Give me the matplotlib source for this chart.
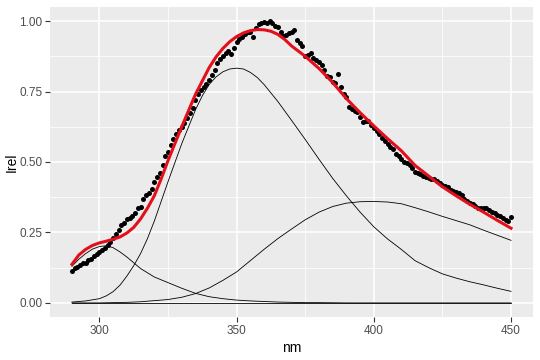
import numpy as np
import matplotlib
matplotlib.use('Agg')
import matplotlib.pyplot as plt
from matplotlib.ticker import MultipleLocator

plt.rcParams['font.family'] = ['Liberation Sans', 'DejaVu Sans']

# measured points, 1 nm steps
nm_obs = list(range(290, 451))
irel_obs = [
    0.115, 0.125, 0.128, 0.135, 0.140, 0.143, 0.152, 0.155, 0.165, 0.172,
    0.180, 0.188, 0.196, 0.205, 0.215, 0.232, 0.245, 0.260, 0.275, 0.285,
    0.297, 0.303, 0.310, 0.318, 0.335, 0.342, 0.370, 0.382, 0.390, 0.405,
    0.430, 0.445, 0.460, 0.490, 0.520, 0.535, 0.560, 0.580, 0.600, 0.615,
    0.625, 0.640, 0.655, 0.675, 0.690, 0.720, 0.740, 0.755, 0.765, 0.775,
    0.790, 0.810, 0.825, 0.850, 0.865, 0.875, 0.888, 0.895, 0.882, 0.905,
    0.925, 0.935, 0.945, 0.955, 0.960, 0.962, 0.945, 0.975, 0.990, 0.993,
    0.997, 0.992, 1.000, 0.995, 0.982, 0.978, 0.960, 0.948, 0.950, 0.958,
    0.963, 0.970, 0.932, 0.922, 0.910, 0.875, 0.878, 0.885, 0.868, 0.862,
    0.855, 0.845, 0.825, 0.805, 0.800, 0.785, 0.780, 0.813, 0.765, 0.740,
    0.730, 0.695, 0.688, 0.680, 0.676, 0.660, 0.642, 0.645, 0.645, 0.630,
    0.620, 0.610, 0.600, 0.585, 0.575, 0.563, 0.553, 0.545, 0.530, 0.520,
    0.510, 0.500, 0.497, 0.490, 0.478, 0.465, 0.462, 0.458, 0.452, 0.447,
    0.443, 0.440, 0.438, 0.432, 0.427, 0.420, 0.415, 0.410, 0.400, 0.398,
    0.394, 0.390, 0.383, 0.370, 0.360, 0.355, 0.350, 0.343, 0.335, 0.336,
    0.338, 0.337, 0.328, 0.322, 0.318, 0.312, 0.308, 0.300, 0.295, 0.290,
    0.305,
]

# fitted components (denser where they bend)
nm_c1 = [290, 292.5, 295, 297.5, 300, 302.5, 305, 307.5, 310, 315, 320, 325,
         330, 335, 340, 345, 350, 355, 360, 365, 370, 375, 380, 390, 400,
         420, 450]
comp1 = [0.130, 0.155, 0.175, 0.191, 0.200, 0.203, 0.196, 0.181, 0.163, 0.122,
         0.092, 0.072, 0.052, 0.034, 0.022, 0.015, 0.010, 0.007, 0.005, 0.003,
         0.002, 0.001, 0.001, 0.0, 0.0, 0.0, 0.0]

nm_c2 = [290, 295, 300, 302.5, 305, 307.5, 310, 312.5, 315, 317.5, 320, 325,
         330, 335, 337.5, 340, 342.5, 345, 347.5, 350, 352.5, 355, 357.5, 360,
         365, 370, 375, 380, 385, 390, 395, 400, 405, 410, 415, 420, 425, 430,
         435, 440, 445, 450]
comp2 = [0.003, 0.007, 0.015, 0.025, 0.040, 0.063, 0.095, 0.132, 0.175, 0.228,
         0.290, 0.430, 0.565, 0.685, 0.735, 0.775, 0.802, 0.820, 0.830, 0.833,
         0.830, 0.818, 0.800, 0.775, 0.715, 0.648, 0.580, 0.510, 0.442, 0.380,
         0.322, 0.270, 0.227, 0.190, 0.150, 0.125, 0.103, 0.088, 0.075, 0.064,
         0.052, 0.041]

nm_c3 = list(range(290, 451, 5))
comp3 = [0.0, 0.0, 0.0, 0.001, 0.002, 0.004, 0.008, 0.012, 0.020, 0.033,
         0.053, 0.080, 0.110, 0.150, 0.190, 0.228, 0.262, 0.295, 0.322, 0.342,
         0.354, 0.359, 0.360, 0.358, 0.352, 0.338, 0.323, 0.307, 0.292, 0.277,
         0.258, 0.240, 0.222]

nm_c4 = [290, 450]
comp4 = [0.0, 0.0]

nm_tot = [290, 292.5, 295, 297.5, 300, 302.5, 305, 307.5, 310, 312.5, 315,
          317.5, 320, 322.5, 325, 330, 335, 340, 342.5, 345, 347.5, 350, 352.5,
          355, 357.5, 360, 362.5, 365, 367.5, 370, 375, 380, 385, 390, 395, 400,
          405, 410, 415, 420, 425, 430, 435, 440, 445, 450]
fit_total = [0.137, 0.170, 0.190, 0.204, 0.213, 0.219, 0.226, 0.234, 0.248,
             0.268, 0.298, 0.336, 0.380, 0.440, 0.505, 0.625, 0.740, 0.835,
             0.873, 0.903, 0.927, 0.945, 0.958, 0.966, 0.970, 0.969, 0.964,
             0.953, 0.935, 0.912, 0.875, 0.832, 0.782, 0.725, 0.675, 0.628,
             0.583, 0.540, 0.488, 0.450, 0.412, 0.380, 0.350, 0.322, 0.293,
             0.265]

fig = plt.figure(figsize=(5.4, 3.6), dpi=100)
ax = fig.add_axes([50 / 540, 1 - 317 / 360, 483 / 540, 310 / 360])

ax.set_facecolor('#EBEBEB')
ax.xaxis.set_major_locator(MultipleLocator(50))
ax.xaxis.set_minor_locator(MultipleLocator(25))
ax.yaxis.set_major_locator(MultipleLocator(0.25))
ax.yaxis.set_minor_locator(MultipleLocator(0.125))
ax.grid(True, which='major', color='white', linewidth=1.1)
ax.grid(True, which='minor', color='white', linewidth=0.55)
ax.set_axisbelow(True)
for s in ax.spines.values():
    s.set_visible(False)

for xs, c in ((nm_c1, comp1), (nm_c2, comp2), (nm_c3, comp3), (nm_c4, comp4)):
    ax.plot(xs, c, color='black', linewidth=0.6, zorder=2)
ax.scatter(nm_obs, irel_obs, s=13, color='black', linewidths=0, zorder=3)
ax.plot(nm_tot, fit_total, color='#E3101B', linewidth=2.2, zorder=4,
        solid_joinstyle='round')

ax.set_xlim(282, 458)
ax.set_ylim(-0.05, 1.05)
ax.set_yticks([0, 0.25, 0.5, 0.75, 1.0])
ax.set_yticklabels(['0.00', '0.25', '0.50', '0.75', '1.00'])

ax.tick_params(which='major', length=3.5, width=0.8, color='#333333',
               labelsize=8.5, labelcolor='#4D4D4D', pad=2)
ax.tick_params(which='minor', length=0)
ax.set_xlabel('nm', fontsize=10, labelpad=3)
ax.set_ylabel('Irel', fontsize=10)
ax.yaxis.set_label_coords(-0.064, 0.5)

fig.savefig('out.png', dpi=100)
